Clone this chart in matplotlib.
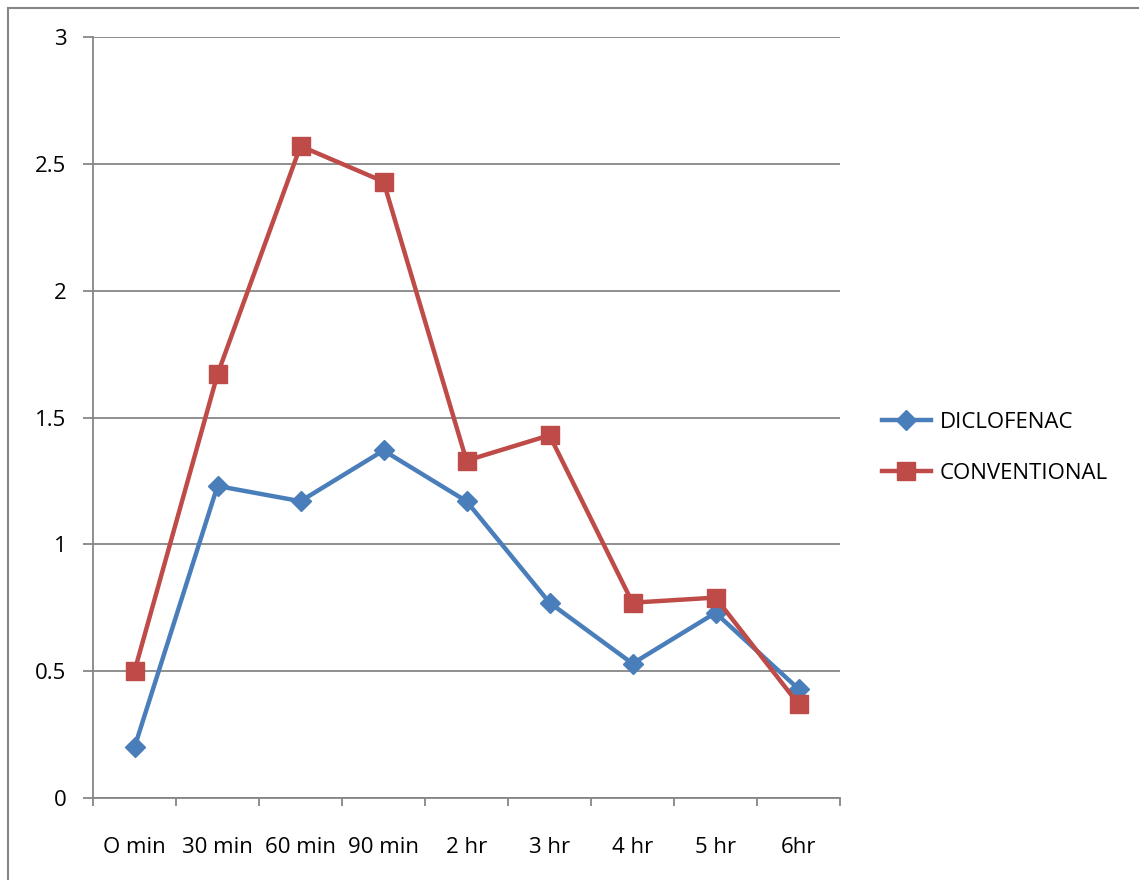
import matplotlib.pyplot as plt
from matplotlib.lines import Line2D

plt.rcParams['font.family'] = ['Open Sans', 'DejaVu Sans']

# Time points and measured values for the two groups
times = ['O min', '30 min', '60 min', '90 min', '2 hr', '3 hr', '4 hr', '5 hr', '6hr']
diclofenac = [0.20, 1.23, 1.17, 1.37, 1.17, 0.77, 0.53, 0.73, 0.43]
conventional = [0.50, 1.67, 2.57, 2.43, 1.33, 1.43, 0.77, 0.79, 0.37]
y_ticks = [0, 0.5, 1, 1.5, 2, 2.5, 3]
y_labels = ['0', '0.5', '1', '1.5', '2', '2.5', '3']

blue = '#4A7EBB'
red = '#BE4B48'
grid_gray = '#868686'

fig = plt.figure(figsize=(11.39, 8.8), dpi=100)
ax = fig.add_axes([93 / 1139, 1 - 798 / 880, (840 - 93) / 1139, (798 - 37) / 880])

x = list(range(len(times)))
ax.plot(x, diclofenac, color=blue, lw=3.2, marker='D', markersize=10,
        markeredgecolor=blue, label='DICLOFENAC', zorder=3)
ax.plot(x, conventional, color=red, lw=3.2, marker='s', markersize=13,
        markeredgecolor=red, label='CONVENTIONAL', zorder=4)

ax.set_xlim(-0.5, len(times) - 0.5)
ax.set_ylim(0, 3)
ax.set_yticks(y_ticks)
ax.set_yticklabels(y_labels)
ax.yaxis.grid(True, color=grid_gray, lw=1.3)
ax.set_axisbelow(True)

# category ticks sit between the labels
ax.set_xticks([i - 0.5 for i in range(len(times) + 1)], minor=False)
ax.set_xticklabels([])
ax.set_xticks(x, minor=True)
ax.set_xticklabels(times, minor=True)
ax.tick_params(axis='x', which='major', length=6, width=1.3, color=grid_gray, direction='out')
ax.tick_params(axis='x', which='minor', length=0, pad=28, labelsize=16)
ax.tick_params(axis='y', length=7, width=1.3, color=grid_gray, pad=12, labelsize=16)

for side in ['top', 'right']:
    ax.spines[side].set_visible(False)
for side in ['left', 'bottom']:
    ax.spines[side].set_color(grid_gray)
    ax.spines[side].set_linewidth(1.3)

handles = [
    Line2D([], [], color=blue, lw=3.2, marker='D', markersize=10, markeredgecolor=blue),
    Line2D([], [], color=red, lw=3.2, marker='s', markersize=13, markeredgecolor=red),
]
fig.legend(handles, ['DICLOFENAC', 'CONVENTIONAL'], loc='center left',
           bbox_to_anchor=(862 / 1139, 1 - 448 / 880), frameon=False,
           fontsize=16, handlelength=2.2, labelspacing=1.35, handletextpad=0.4)

# outer chart frame
fig.add_artist(Line2D([8 / 1139, 8 / 1139], [0, 1 - 8 / 880], color=grid_gray, lw=1.5))
fig.add_artist(Line2D([8 / 1139, 1], [1 - 8 / 880, 1 - 8 / 880], color=grid_gray, lw=1.5))

fig.savefig('out.png', dpi=100)
